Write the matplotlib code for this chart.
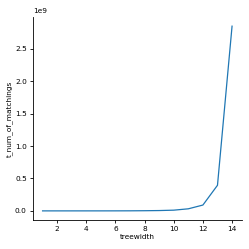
import numpy as np
import matplotlib
matplotlib.use("Agg")
import matplotlib.pyplot as plt

# treewidth vs total number of matchings
treewidth = [1, 2, 3, 4, 5, 6, 7, 8, 9, 10, 11, 12, 13, 14]
t_num_of_matchings = [1e3, 5e3, 2e4, 6e4, 1.5e5, 4e5, 1e6, 2.5e6, 5e6, 1.1e7, 3.2e7, 9e7, 3.95e8, 2.85e9]

plt.rcParams['font.size'] = 5.3
fig, ax = plt.subplots(figsize=(2.49, 2.49), dpi=100)
fig.subplots_adjust(left=0.133, right=0.97, bottom=0.116, top=0.932)

ax.plot(treewidth, t_num_of_matchings, color='#1f77b4', linewidth=0.9)
ax.set_xlabel('treewidth', labelpad=1.5)
ax.set_ylabel('t_num_of_matchings', labelpad=1.5)
ax.spines['top'].set_visible(False)
ax.spines['right'].set_visible(False)
ax.tick_params(length=2.5, width=0.6, pad=2)
for s in ax.spines.values():
    s.set_linewidth(0.6)

fig.savefig('out.png', dpi=100)
